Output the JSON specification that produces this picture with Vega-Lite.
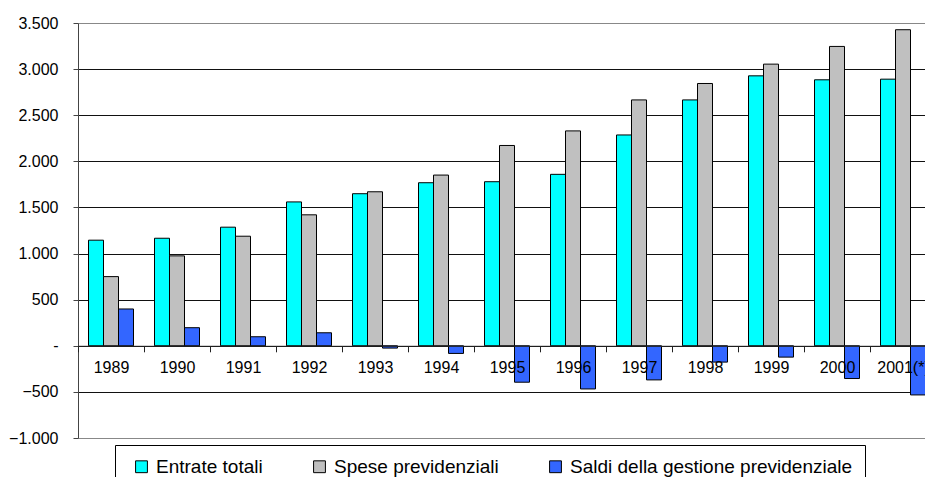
{
  "$schema": "https://vega.github.io/schema/vega-lite/v6.json",
  "width": 847,
  "height": 415,
  "autosize": {"type": "none"},
  "padding": {"left": 78, "top": 23, "right": 0, "bottom": 39},
  "background": "white",
  "config": {
    "view": {"stroke": null},
    "font": "Liberation Sans"
  },
  "data": {
    "values": [
      {"anno": "1989", "serie": "Entrate totali", "valore": 1145},
      {"anno": "1989", "serie": "Spese previdenziali", "valore": 750},
      {"anno": "1989", "serie": "Saldi della gestione previdenziale", "valore": 399},
      {"anno": "1990", "serie": "Entrate totali", "valore": 1166},
      {"anno": "1990", "serie": "Spese previdenziali", "valore": 975},
      {"anno": "1990", "serie": "Saldi della gestione previdenziale", "valore": 196},
      {"anno": "1991", "serie": "Entrate totali", "valore": 1286},
      {"anno": "1991", "serie": "Spese previdenziali", "valore": 1188},
      {"anno": "1991", "serie": "Saldi della gestione previdenziale", "valore": 98},
      {"anno": "1992", "serie": "Entrate totali", "valore": 1560},
      {"anno": "1992", "serie": "Spese previdenziali", "valore": 1420},
      {"anno": "1992", "serie": "Saldi della gestione previdenziale", "valore": 141},
      {"anno": "1993", "serie": "Entrate totali", "valore": 1649},
      {"anno": "1993", "serie": "Spese previdenziali", "valore": 1670},
      {"anno": "1993", "serie": "Saldi della gestione previdenziale", "valore": -25},
      {"anno": "1994", "serie": "Entrate totali", "valore": 1768},
      {"anno": "1994", "serie": "Spese previdenziali", "valore": 1851},
      {"anno": "1994", "serie": "Saldi della gestione previdenziale", "valore": -83},
      {"anno": "1995", "serie": "Entrate totali", "valore": 1779},
      {"anno": "1995", "serie": "Spese previdenziali", "valore": 2172},
      {"anno": "1995", "serie": "Saldi della gestione previdenziale", "valore": -395},
      {"anno": "1996", "serie": "Entrate totali", "valore": 1859},
      {"anno": "1996", "serie": "Spese previdenziali", "valore": 2330},
      {"anno": "1996", "serie": "Saldi della gestione previdenziale", "valore": -468},
      {"anno": "1997", "serie": "Entrate totali", "valore": 2286},
      {"anno": "1997", "serie": "Spese previdenziali", "valore": 2666},
      {"anno": "1997", "serie": "Saldi della gestione previdenziale", "valore": -370},
      {"anno": "1998", "serie": "Entrate totali", "valore": 2666},
      {"anno": "1998", "serie": "Spese previdenziali", "valore": 2844},
      {"anno": "1998", "serie": "Saldi della gestione previdenziale", "valore": -177},
      {"anno": "1999", "serie": "Entrate totali", "valore": 2927},
      {"anno": "1999", "serie": "Spese previdenziali", "valore": 3054},
      {"anno": "1999", "serie": "Saldi della gestione previdenziale", "valore": -123},
      {"anno": "2000", "serie": "Entrate totali", "valore": 2884},
      {"anno": "2000", "serie": "Spese previdenziali", "valore": 3246},
      {"anno": "2000", "serie": "Saldi della gestione previdenziale", "valore": -355},
      {"anno": "2001(*)", "serie": "Entrate totali", "valore": 2891},
      {"anno": "2001(*)", "serie": "Spese previdenziali", "valore": 3427},
      {"anno": "2001(*)", "serie": "Saldi della gestione previdenziale", "valore": -533}
    ]
  },
  "mark": {"type": "bar", "stroke": "black", "strokeWidth": 1, "clip": true},
  "encoding": {
    "x": {
      "field": "anno",
      "type": "nominal",
      "sort": null,
      "title": null,
      "scale": {"range": [0, 858], "paddingInner": 0, "paddingOuter": 0},
      "axis": {
        "orient": "bottom",
        "offset": -92.2,
        "zindex": 1,
        "labelAngle": 0,
        "labelFontSize": 16,
        "labelColor": "black",
        "labelPadding": 8,
        "tickBand": "extent",
        "tickSize": 6,
        "tickColor": "#222",
        "domainColor": "#222",
        "grid": false,
        "labelLimit": 200
      }
    },
    "xOffset": {
      "field": "serie",
      "type": "nominal",
      "scale": {
        "domain": ["Entrate totali", "Spese previdenziali", "Saldi della gestione previdenziale"],
        "paddingInner": 0,
        "paddingOuter": 0.7
      }
    },
    "y": {
      "field": "valore",
      "type": "quantitative",
      "title": null,
      "scale": {"domain": [-1000, 3500], "nice": false, "zero": false},
      "axis": {
        "values": [-1000, -500, 0, 500, 1000, 1500, 2000, 2500, 3000, 3500],
        "labelExpr": "datum.value == 0 ? '-' : replace(format(datum.value, ','), ',', '.')",
        "labelFontSize": 16,
        "labelColor": "black",
        "labelPadding": 15,
        "tickSize": 5,
        "tickColor": "#444",
        "domainColor": "#444",
        "gridColor": {"condition": {"test": "datum.value == 3500 || datum.value == -1000", "value": "#888888"}, "value": "#111111"},
        "gridWidth": 1
      }
    },
    "color": {
      "field": "serie",
      "type": "nominal",
      "scale": {
        "domain": ["Entrate totali", "Spese previdenziali", "Saldi della gestione previdenziale"],
        "range": ["#00FFFF", "#C0C0C0", "#3366FF"]
      },
      "legend": {
        "orient": "none",
        "legendX": 37,
        "legendY": 422,
        "direction": "horizontal",
        "columns": 3,
        "columnPadding": 47,
        "title": "\u00a0",
        "titleOrient": "left",
        "titleFontSize": 17,
        "titlePadding": 5,
        "padding": 12,
        "strokeColor": "black",
        "fillColor": "white",
        "symbolType": "square",
        "symbolSize": 140,
        "symbolStrokeColor": "black",
        "symbolStrokeWidth": 1,
        "symbolOpacity": 1,
        "labelFontSize": 19,
        "labelColor": "black",
        "labelOffset": 5,
        "labelLimit": 400
      }
    }
  }
}
